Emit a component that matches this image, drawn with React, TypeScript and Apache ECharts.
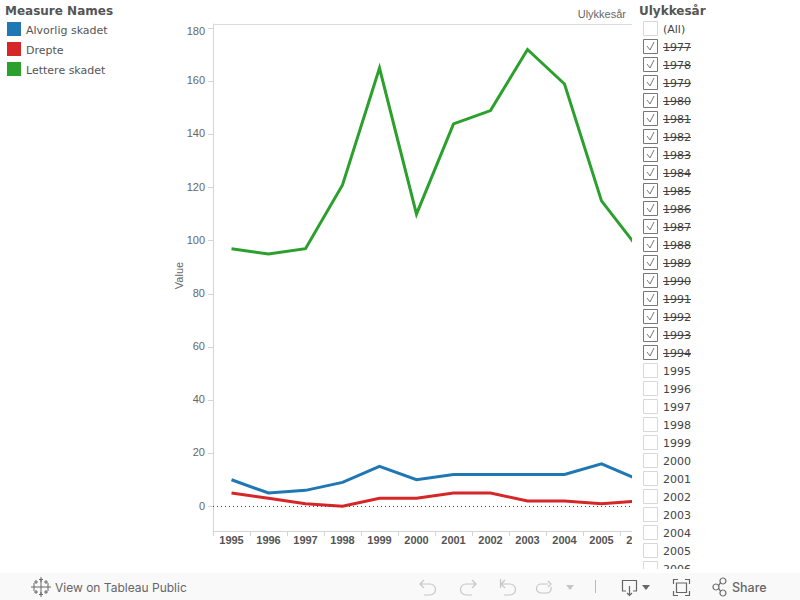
import React, { useEffect, useRef } from "react";
import * as echarts from "echarts";

const years = ["1995","1996","1997","1998","1999","2000","2001","2002","2003","2004","2005","2006"];
const alvorlig = [10,5,6,9,15,10,12,12,12,12,16,10];
const drepte = [5,3,1,0,3,3,5,5,2,2,1,2];
const lettere = [97,95,97,121,165,110,144,149,172,159,115,97];
const yTicks = [0,20,40,60,80,100,120,140,160,180];
const checkedYears = ["1977","1978","1979","1980","1981","1982","1983","1984","1985","1986","1987","1988","1989","1990","1991","1992","1993","1994"];
const uncheckedYears = ["1995","1996","1997","1998","1999","2000","2001","2002","2003","2004","2005","2006"];

const SANS = '"DejaVu Sans", sans-serif';
const ARIAL = '"Liberation Sans", Arial, sans-serif';
const ICON = "#c6c6c6";
const DARK = "#666666";

const paths: Record<string, string> = {
  undo: "M424 580 L420 584 L424 588 M420 584 H430 A5.5 5.5 0 0 1 430 595 H424",
  redo: "M472 580 L476 584 L472 588 M476 584 H466 A5.5 5.5 0 0 0 466 595 H472",
  revert: "M500.5 579 V588 M505 580 L501 584 L505 588 M501 584 H510 A5.5 5.5 0 0 1 510 595 H504",
  refresh: "M548 584 H541 A4.5 4.5 0 0 0 541 593 H547 A4.5 4.5 0 0 0 551 587 M548 581 L551 584 L548 587",
  download: "M626 591 H622.5 V580.5 H636.5 V591 H633 M629.5 586 V595 M627 593 L629.5 595.5 L632 593",
  full: "M673.5 584 V579.5 H678 M685 579.5 H689.5 V584 M689.5 591 V595.5 H685 M678 595.5 H673.5 V591 M676.5 583 H686.5 V592.5 H676.5 Z",
  share: "M718.7 585.7 L720.5 582.5 M718.7 588.3 L720.5 591.5 M716 590 A3 3 0 1 0 715.9 590 M723 584 A3 3 0 1 0 722.9 584 M723 596 A3 3 0 1 0 722.9 596",
  logo: "M41 579 V595 M37 587 H45 M34 583 V591 M31 587 H37 M48 583 V591 M45 587 H51 M41 577 V582 M39 579.5 H43 M41 592 V597 M39 594.5 H43 M36 580 V584 M34 582 H38 M46 580 V584 M44 582 H48 M36 590 V594 M34 592 H38 M46 590 V594 M44 592 H48",
};
Object.keys(paths).forEach((k) => {
  echarts.graphic.registerShape("tb_" + k, echarts.graphic.extendPath(paths[k] as any, {}) as any);
});

function filterPanel(): any[] {
  const out: any[] = [];
  const rows = [
    { label: "(All)", on: false },
    ...checkedYears.map((y) => ({ label: y, on: true })),
    ...uncheckedYears.map((y) => ({ label: y, on: false })),
  ];
  rows.forEach((r, i) => {
    const cy = 29 + 18 * i;
    out.push({
      type: "rect", z: 101,
      shape: { x: 643.5, y: cy - 7.5, width: 14, height: 14 },
      style: { fill: "#fff", stroke: r.on ? "#777777" : "#d8d8d8", lineWidth: 1 },
    });
    out.push({
      type: "text", z: 101, x: 663, y: cy + 0.5,
      style: { text: r.label, font: `11px ${SANS}`, fill: "#444444", verticalAlign: "middle" },
    });
    if (r.on) {
      out.push({
        type: "polyline", z: 102,
        shape: { points: [[647, cy - 1], [650, cy + 3], [654, cy - 5]] },
        style: { stroke: "#777777", lineWidth: 1, fill: "none" },
      });
      out.push({
        type: "line", z: 102,
        shape: { x1: 663, y1: cy + 0.5, x2: 691, y2: cy + 0.5 },
        style: { stroke: "#444444", lineWidth: 1 },
      });
    }
  });
  return out;
}

function toolbar(): any[] {
  const icon = (k: string, stroke: string, lw = 1.2) => ({
    type: "tb_" + k, z: 111, x: 0, y: 0,
    style: { fill: "none", stroke, lineWidth: lw },
  });
  return [
    { type: "rect", z: 103, shape: { x: 633, y: 569, width: 167, height: 5 }, style: { fill: "#fff" } },
    { type: "rect", z: 110, shape: { x: 0, y: 573, width: 800, height: 27 }, style: { fill: "#f9f9f9" } },
    icon("logo", DARK, 1),
    { type: "text", z: 111, x: 55, y: 587, style: { text: "View on Tableau Public", font: `12px Inter, Roboto, sans-serif`, fill: DARK, verticalAlign: "middle" } },
    icon("undo", ICON), icon("redo", ICON), icon("revert", ICON), icon("refresh", ICON),
    { type: "polygon", z: 111, shape: { points: [[566, 585], [574, 585], [570, 590]] }, style: { fill: ICON } },
    { type: "line", z: 111, shape: { x1: 595.5, y1: 580, x2: 595.5, y2: 593 }, style: { stroke: "#bbbbbb", lineWidth: 1 } },
    icon("download", DARK),
    { type: "polygon", z: 111, shape: { points: [[642, 585], [650, 585], [646, 590]] }, style: { fill: DARK } },
    icon("full", DARK),
    icon("share", DARK),
    { type: "text", z: 111, x: 732, y: 587, style: { text: "Share", font: `500 12.5px Inter, Roboto, sans-serif`, fill: DARK, verticalAlign: "middle" } },
  ];
}

export default function App() {
  const ref = useRef<HTMLDivElement>(null);
  useEffect(() => {
    document.body.style.margin = "0";
    const chart = echarts.init(ref.current!, undefined, { renderer: "svg" });
    const line = (name: string, data: number[], color: string, extra: any = {}) => ({
      name, type: "line", data, symbol: "none", smooth: false, clip: true,
      lineStyle: { color, width: 3, join: "miter", cap: "butt" },
      itemStyle: { color },
      emphasis: { disabled: true },
      ...extra,
    });
    chart.setOption({
      animation: false,
      backgroundColor: "#ffffff",
      grid: { left: 213, top: 24, width: 444, height: 507, containLabel: false },
      legend: {
        show: true, orient: "vertical", left: 7, top: 22, padding: 0, itemWidth: 14, itemHeight: 14, itemGap: 6,
        icon: "rect",
        data: ["Alvorlig skadet", "Drepte", "Lettere skadet"],
        selectedMode: false,
        formatter: "{a|{name}}",
        textStyle: {
          fontFamily: SANS, fontSize: 11, color: "#555555",
          rich: { a: { fontFamily: SANS, fontSize: 11, color: "#555555", padding: [3, 0, 0, 0] } },
        },
        itemStyle: { borderWidth: 0 },
        align: "left",
      },
      xAxis: {
        type: "category", data: years, boundaryGap: true,
        axisLine: { onZero: false, lineStyle: { color: "#d4d4d4", width: 1 } },
        axisTick: { show: true, length: 5, lineStyle: { color: "#d4d4d4" }, alignWithLabel: false },
        axisLabel: { interval: 0, fontFamily: ARIAL, fontWeight: "bold", fontSize: 11, color: "#555555", margin: 3 },
        splitLine: { show: false },
      },
      yAxis: {
        type: "value", min: -9.3, max: 181.6,
        name: "Value", nameLocation: "middle", nameRotate: 90, nameGap: 29, nameMoveOverlap: false,
        nameTextStyle: { fontFamily: ARIAL, fontSize: 11, color: "#666666", padding: [0, 0, 0, 4] },
        axisLine: { show: true, lineStyle: { color: "#d4d4d4" } },
        axisTick: { show: true, length: 5, lineStyle: { color: "#d4d4d4" }, customValues: yTicks },
        axisLabel: {
          customValues: yTicks, fontFamily: ARIAL, fontSize: 11, color: "#666666", margin: 8,
          showMinLabel: true, showMaxLabel: true,
          formatter: (v: number) => (v === 180 ? `{top|${v}}` : v === 0 ? `${v}` : `{n|${v}}`),
          rich: {
            top: { fontFamily: ARIAL, fontSize: 11, color: "#666666", padding: [5, 0, 0, 0] },
            n: { fontFamily: ARIAL, fontSize: 11, color: "#666666", padding: [0, 0, 2, 0] },
          },
        },
        splitLine: { show: false },
      },
      series: [
        line("Lettere skadet", lettere, "#2ca02c", {
          markLine: {
            silent: true, symbol: "none", animation: false, label: { show: false },
            lineStyle: { color: "#444444", type: [1, 3], width: 1 },
            data: [{ yAxis: 0 }],
          },
        }),
        line("Alvorlig skadet", alvorlig, "#1f77b4"),
        line("Drepte", drepte, "#d62728"),
      ],
      graphic: { elements: [
        { type: "rect", z: 100, shape: { x: 632, y: 0, width: 168, height: 574 }, style: { fill: "#ffffff" } },
        { type: "line", z: 100, shape: { x1: 213, y1: 24.5, x2: 632, y2: 24.5 }, style: { stroke: "#dcdcdc", lineWidth: 1 } },
        { type: "text", z: 101, x: 5, y: 10.5, style: { text: "Measure Names", font: `bold 12px ${SANS}`, fill: "#555555", verticalAlign: "middle" } },
        { type: "text", z: 101, x: 639, y: 10.5, style: { text: "Ulykkesår", font: `bold 12px ${SANS}`, fill: "#555555", verticalAlign: "middle" } },
        { type: "text", z: 101, x: 626, y: 14, style: { text: "Ulykkesår", font: `11px ${ARIAL}`, fill: "#666666", align: "right", verticalAlign: "middle" } },
        ...filterPanel(),
        ...toolbar(),
      ] },
    });
    return () => chart.dispose();
  }, []);
  return <div ref={ref} style={{ position: "fixed", left: 0, top: 0, width: 800, height: 600 }} />;
}
